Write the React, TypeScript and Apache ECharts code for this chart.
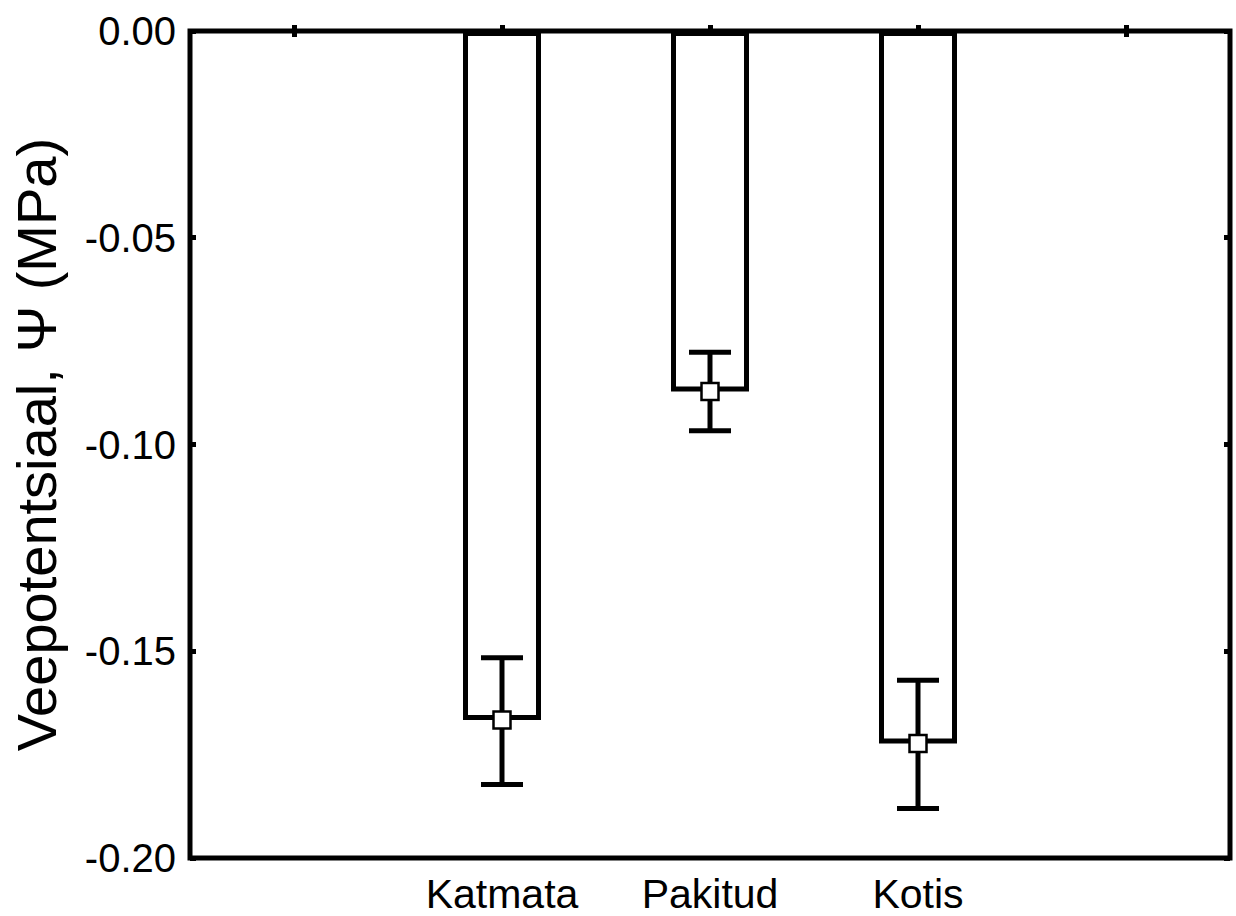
import React, { useEffect, useRef } from "react";
import * as echarts from "echarts";

const categories = ["Katmata", "Pakitud", "Kotis"];
const means = [-0.1666, -0.0872, -0.1723];
const errLow = [-0.1822, -0.0967, -0.188];
const errHigh = [-0.1516, -0.0777, -0.157];
const yTicks = [0, -0.05, -0.1, -0.15, -0.2];

const FONT = "'Liberation Sans', Arial, Helvetica, sans-serif";

export default function App() {
  const ref = useRef<HTMLDivElement>(null);
  useEffect(() => {
    if (!ref.current) return;
    const chart = echarts.init(ref.current, null, { renderer: "svg" });
    const padded = ["", ...categories, ""];
    const barData = [null, ...means, null];
    const errData = categories.map((_, i) => [i + 1, errLow[i], errHigh[i]]);
    const markData = categories.map((_, i) => [i + 1, means[i]]);
    const tick = { show: true, inside: true, length: 6, lineStyle: { color: "#000", width: 5 } };
    chart.setOption({
      animation: false,
      backgroundColor: "#fff",
      grid: {
        left: 188, right: 6, top: 31, bottom: 58, containLabel: false,
        show: true, borderColor: "#000", borderWidth: 5, backgroundColor: "transparent",
      },
      xAxis: [
        {
          type: "category",
          data: padded,
          boundaryGap: true,
          position: "bottom",
          axisLine: { show: false },
          axisTick: { ...tick, alignWithLabel: true, interval: 0 },
          axisLabel: { interval: 0, margin: 15, color: "#000", fontSize: 41, fontFamily: FONT },
          splitLine: { show: false },
        },
        {
          type: "category",
          data: padded,
          boundaryGap: true,
          position: "top",
          axisLine: { show: false },
          axisTick: { ...tick, alignWithLabel: true, interval: 0 },
          axisLabel: { show: false },
          splitLine: { show: false },
        },
      ],
      yAxis: [
        {
          type: "value",
          min: -0.2,
          max: 0,
          interval: 0.05,
          position: "left",
          name: "Veepotentsiaal, Ψ (MPa)",
          nameLocation: "middle",
          nameGap: 126,
          nameTextStyle: { color: "#000", fontSize: 56, fontFamily: FONT },
          axisLine: { show: false },
          axisTick: tick,
          axisLabel: {
            margin: 14,
            color: "#000",
            fontSize: 40,
            fontFamily: FONT,
            formatter: (v: number) => {
              const t = yTicks.find((k) => Math.abs(k - v) < 1e-9);
              return t === 0 ? "0.00" : v.toFixed(2);
            },
          },
          splitLine: { show: false },
        },
        {
          type: "value",
          min: -0.2,
          max: 0,
          interval: 0.05,
          position: "right",
          axisLine: { show: false },
          axisTick: tick,
          axisLabel: { show: false },
          splitLine: { show: false },
        },
      ],
      series: [
        {
          type: "bar",
          data: barData,
          barWidth: 78,
          itemStyle: { color: "#fff", borderColor: "#000", borderWidth: 5 },
          z: 2,
        },
        {
          type: "custom",
          data: errData,
          z: 3,
          renderItem: (params: any, api: any) => {
            const x = api.value(0);
            const lo = api.coord([x, api.value(1)]);
            const hi = api.coord([x, api.value(2)]);
            const hw = 21;
            const st = { stroke: "#000", lineWidth: 5 };
            return {
              type: "group",
              children: [
                { type: "line", shape: { x1: lo[0], y1: lo[1], x2: hi[0], y2: hi[1] }, style: st },
                { type: "line", shape: { x1: lo[0] - hw, y1: lo[1], x2: lo[0] + hw, y2: lo[1] }, style: st },
                { type: "line", shape: { x1: hi[0] - hw, y1: hi[1], x2: hi[0] + hw, y2: hi[1] }, style: st },
              ],
            };
          },
        },
        {
          type: "scatter",
          data: markData,
          symbol: "rect",
          symbolSize: 17,
          z: 4,
          itemStyle: { color: "#fff", borderColor: "#000", borderWidth: 2.5, opacity: 1 },
        },
      ],
    });
    return () => chart.dispose();
  }, []);
  return (
    <div
      ref={ref}
      style={{ position: "fixed", left: 0, top: 0, width: 1236, height: 916, background: "#fff" }}
    />
  );
}
